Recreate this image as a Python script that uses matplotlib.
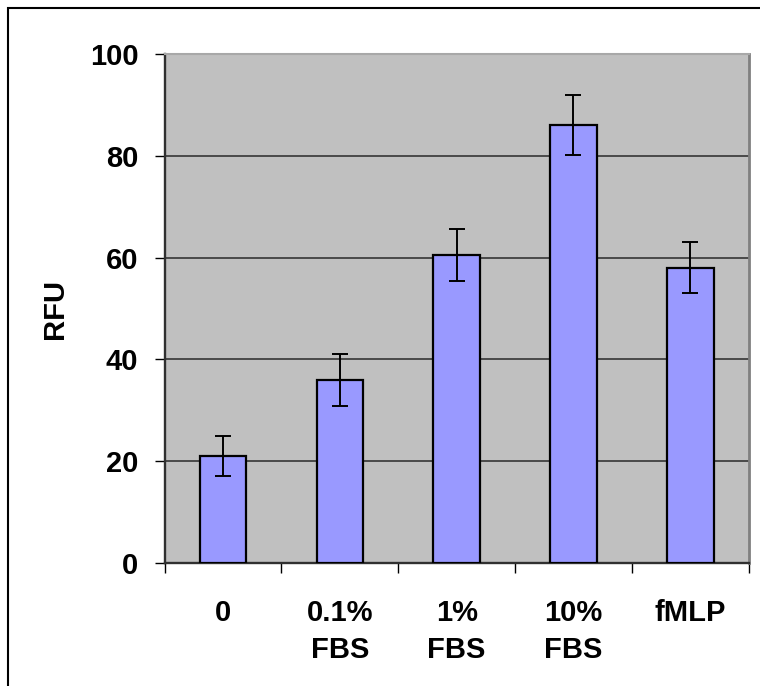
import numpy as np
import matplotlib
matplotlib.use('Agg')
import matplotlib.pyplot as plt
from matplotlib.patches import Rectangle

plt.rcParams['font.family'] = ['Liberation Sans', 'DejaVu Sans']
plt.rcParams['font.weight'] = 'bold'

# data
categories = ['0', '0.1%\nFBS', '1%\nFBS', '10%\nFBS', 'fMLP']
rfu = [21.0, 36.0, 60.5, 86.0, 58.0]
rfu_err = [3.9, 5.1, 5.1, 5.9, 5.0]
y_ticks = [0, 20, 40, 60, 80, 100]

fig = plt.figure(figsize=(7.6, 6.86), dpi=100)
ax = fig.add_axes([0.2167, 0.1793, 0.7684, 0.742])

# outer frame of the chart (open to the right and bottom)
fig.patches.append(Rectangle((8 / 760, -0.05), 1.2, 1 - 8 / 686 + 0.05,
                             transform=fig.transFigure, fill=False,
                             edgecolor='black', lw=1.5))

ax.set_facecolor('#C0C0C0')
x = np.arange(len(categories))
ax.bar(x, rfu, width=0.4, color='#9999FF', edgecolor='black', lw=1.6, zorder=3)
ax.errorbar(x, rfu, yerr=rfu_err, fmt='none', ecolor='black', elinewidth=1.4,
            capsize=5.8, capthick=1.4, zorder=4)

ax.set_xlim(-0.5, len(categories) - 0.5)
ax.set_ylim(0, 100)
ax.set_yticks(y_ticks)
ax.set_yticklabels([str(v) for v in y_ticks])
ax.yaxis.grid(True, color='#404040', lw=1.3, zorder=1)
ax.set_axisbelow(True)

# tick marks between categories, labels at centres
ax.set_xticks(np.arange(len(categories) + 1) - 0.5)
ax.set_xticklabels([])
ax.set_xticks(x, minor=True)
ax.set_xticklabels(categories, minor=True, fontsize=21, fontweight='bold',
                   linespacing=1.4, va='top')
ax.tick_params(axis='x', which='major', length=7, width=1, color='black', direction='out')
ax.tick_params(axis='x', which='minor', length=0, pad=26)
ax.tick_params(axis='y', length=7, width=1, color='black', pad=12, labelsize=21)
for lab in ax.get_yticklabels():
    lab.set_fontweight('bold')

ax.spines['left'].set_color('#303030')
ax.spines['left'].set_linewidth(1.7)
ax.spines['bottom'].set_color('#303030')
ax.spines['bottom'].set_linewidth(1.7)
ax.spines['top'].set_color('#A8A8A8')
ax.spines['top'].set_linewidth(1.5)
ax.spines['right'].set_color('#808080')
ax.spines['right'].set_linewidth(2)

fig.text(55 / 760, 1 - 309 / 686, 'RFU', rotation=90, fontsize=21,
         fontweight='bold', ha='center', va='center')

fig.savefig('out.png', dpi=100, facecolor='white')
